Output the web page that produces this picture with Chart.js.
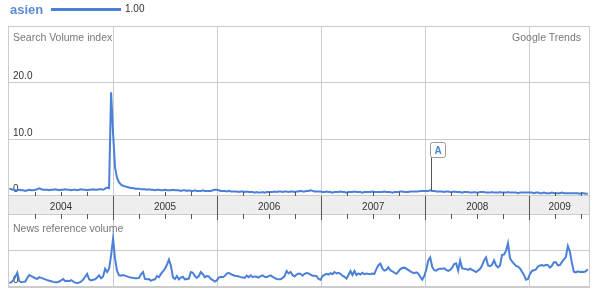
<!DOCTYPE html>
<html>
<head>
<meta charset="utf-8">
<title>asien - Google Trends</title>
<script src="https://cdn.jsdelivr.net/npm/chart.js@4.4.1/dist/chart.umd.min.js"></script>
<style>
  html, body { margin: 0; padding: 0; background: #fff; }
  body { position: relative; width: 595px; height: 292px; overflow: hidden;
         font-family: "Liberation Sans", Arial, sans-serif; }
  canvas { position: absolute; left: 0; top: 0; }
  .txt { position: absolute; white-space: nowrap; z-index: 2; }
  .term { left: 10px; top: 1.5px; font-size: 13px; line-height: 16px; font-weight: bold; color: #5b8bd6; }
  .swatch { position: absolute; left: 51px; top: 8px; width: 70px; height: 3px; background: #4a80d8; }
  .avg { left: 125px; top: 3px; font-size: 10px; line-height: 12px; color: #333; }
  .note { font-size: 10.5px; line-height: 12px; color: #777; }
</style>
</head>
<body>
<canvas id="searchChart" width="595" height="292"></canvas>
<canvas id="newsChart" width="595" height="292"></canvas>

<span class="txt term">asien</span>
<span class="swatch"></span>
<span class="txt avg">1.00</span>
<span class="txt note" style="left:13px;top:31px">Search Volume index</span>
<span class="txt note" style="right:14px;top:31px">Google Trends</span>
<span class="txt note" style="left:13px;top:222px">News reference volume</span>

<script>
// ----- Data: weekly samples, first week of 2004 to late July 2009 -----
const FIRST_WEEK = 2004.004;          // decimal year of sample 0
const WEEK = 7 / 365.25;
const years = [2004, 2005, 2006, 2007, 2008, 2009];

// Search volume index (top panel)
const searchVolume = [
  1.3, 1.2, 1.1, 1.0, 1.0, 1.1, 1.0, 1.0, 0.9, 1.0,
  1.1, 1.0, 1.0, 1.1, 1.2, 1.35, 1.2, 1.1, 1.1, 1.1,
  1.0, 1.1, 1.1, 1.2, 1.1, 1.0, 1.1, 1.1, 1.2, 1.1,
  1.1, 1.0, 1.1, 1.1, 1.0, 1.1, 1.2, 1.1, 1.1, 1.0,
  1.1, 1.1, 1.2, 1.1, 1.1, 1.2, 1.2, 1.1, 1.3, 1.5,
  1.4, 18.3, 11.0, 5.0, 3.2, 2.4, 2.0, 1.8, 1.7, 1.6,
  1.5, 1.4, 1.4, 1.3, 1.3, 1.3, 1.2, 1.2, 1.2, 1.1,
  1.2, 1.1, 1.1, 1.0, 1.1, 1.1, 1.0, 1.0, 1.1, 1.0,
  1.0, 1.0, 1.1, 1.0, 1.0, 1.0, 0.9, 1.0, 1.0, 0.9,
  1.0, 0.9, 0.9, 1.0, 0.9, 0.9, 0.9, 1.0, 0.9, 0.9,
  0.9, 0.9, 1.0, 1.1, 1.1, 1.0, 0.9, 0.9, 0.9, 0.8,
  0.9, 0.8, 0.8, 0.8, 0.8, 0.7, 0.8, 0.8, 0.7, 0.8,
  0.7, 0.7, 0.7, 0.6, 0.7, 0.6, 0.6, 0.7, 0.6, 0.7,
  0.7, 0.7, 0.7, 0.8, 0.7, 0.8, 0.8, 0.7, 0.8, 0.8,
  0.7, 0.8, 0.8, 0.7, 0.8, 0.8, 0.9, 0.8, 0.8, 0.9,
  0.9, 1.0, 0.9, 0.8, 0.8, 0.8, 0.8, 0.7, 0.7, 0.8,
  0.7, 0.7, 0.6, 0.7, 0.7, 0.7, 0.8, 0.7, 0.7, 0.6,
  0.7, 0.7, 0.7, 0.8, 0.7, 0.7, 0.7, 0.6, 0.7, 0.7,
  0.7, 0.7, 0.8, 0.7, 0.7, 0.7, 0.7, 0.7, 0.8, 0.7,
  0.7, 0.7, 0.6, 0.7, 0.7, 0.7, 0.8, 0.8, 0.7, 0.7,
  0.7, 0.8, 0.8, 0.8, 0.8, 0.8, 0.9, 0.9, 0.9, 0.9,
  0.9, 1.0, 0.9, 0.9, 0.8, 0.8, 0.8, 0.8, 0.7, 0.8,
  0.8, 0.7, 0.7, 0.8, 0.7, 0.7, 0.7, 0.6, 0.7, 0.7,
  0.7, 0.6, 0.6, 0.7, 0.6, 0.6, 0.7, 0.7, 0.7, 0.6,
  0.6, 0.6, 0.7, 0.6, 0.6, 0.6, 0.7, 0.6, 0.6, 0.6,
  0.7, 0.6, 0.6, 0.6, 0.6, 0.5, 0.6, 0.6, 0.6, 0.6,
  0.6, 0.6, 0.6, 0.5, 0.6, 0.6, 0.5, 0.5, 0.6, 0.5,
  0.5, 0.5, 0.6, 0.5, 0.5, 0.5, 0.5, 0.6, 0.5, 0.5,
  0.5, 0.5, 0.5, 0.5, 0.5, 0.5, 0.4, 0.5, 0.5, 0.4,
  0.4
];

// News reference volume (bottom panel, 1 = middle gridline)
const newsVolume = [
  0.11, 0.13, 0.19, 0.28, 0.39, 0.16, 0.13, 0.14, 0.15, 0.25,
  0.33, 0.30, 0.27, 0.24, 0.22, 0.27, 0.25, 0.23, 0.21, 0.19,
  0.17, 0.16, 0.14, 0.13, 0.13, 0.15, 0.18, 0.22, 0.16, 0.17,
  0.16, 0.19, 0.15, 0.12, 0.11, 0.12, 0.15, 0.20, 0.28, 0.36,
  0.21, 0.18, 0.20, 0.21, 0.26, 0.32, 0.24, 0.29, 0.50, 0.41,
  0.50, 0.86, 1.33, 0.77, 0.44, 0.32, 0.31, 0.33, 0.31, 0.29,
  0.27, 0.26, 0.25, 0.24, 0.24, 0.25, 0.35, 0.41, 0.22, 0.21,
  0.22, 0.17, 0.20, 0.21, 0.30, 0.27, 0.36, 0.43, 0.50, 0.61,
  0.75, 0.58, 0.27, 0.22, 0.30, 0.21, 0.26, 0.28, 0.21, 0.22,
  0.23, 0.41, 0.39, 0.30, 0.25, 0.30, 0.41, 0.35, 0.27, 0.30,
  0.29, 0.22, 0.19, 0.15, 0.18, 0.26, 0.28, 0.27, 0.30, 0.37,
  0.39, 0.35, 0.33, 0.31, 0.30, 0.29, 0.27, 0.26, 0.25, 0.31,
  0.27, 0.32, 0.27, 0.29, 0.28, 0.26, 0.30, 0.32, 0.28, 0.27,
  0.30, 0.32, 0.28, 0.25, 0.22, 0.21, 0.21, 0.25, 0.30, 0.44,
  0.37, 0.41, 0.33, 0.29, 0.34, 0.37, 0.36, 0.31, 0.36, 0.38,
  0.37, 0.34, 0.31, 0.31, 0.30, 0.22, 0.20, 0.30, 0.33, 0.36,
  0.34, 0.38, 0.35, 0.41, 0.37, 0.39, 0.36, 0.31, 0.28, 0.23,
  0.33, 0.44, 0.33, 0.44, 0.33, 0.37, 0.34, 0.39, 0.35, 0.37,
  0.36, 0.35, 0.37, 0.36, 0.49, 0.60, 0.64, 0.51, 0.45, 0.47,
  0.54, 0.46, 0.43, 0.39, 0.36, 0.42, 0.49, 0.52, 0.53, 0.50,
  0.47, 0.43, 0.40, 0.38, 0.40, 0.37, 0.28, 0.20, 0.30, 0.47,
  0.72, 0.81, 0.55, 0.46, 0.45, 0.49, 0.50, 0.50, 0.51, 0.47,
  0.44, 0.47, 0.53, 0.63, 0.65, 0.45, 0.73, 0.51, 0.50, 0.49,
  0.47, 0.50, 0.47, 0.44, 0.41, 0.45, 0.50, 0.59, 0.73, 0.81,
  0.59, 0.57, 0.61, 0.73, 0.59, 0.54, 0.59, 0.88, 0.89, 0.99,
  1.20, 0.79, 0.70, 0.64, 0.58, 0.56, 0.51, 0.42, 0.33, 0.20,
  0.22, 0.35, 0.44, 0.46, 0.48, 0.56, 0.59, 0.60, 0.58, 0.61,
  0.60, 0.53, 0.58, 0.68, 0.68, 0.59, 0.60, 0.68, 0.76, 0.82,
  1.12, 0.97, 0.67, 0.42, 0.40, 0.43, 0.41, 0.42, 0.41, 0.43,
  0.49
];

// News story flags on the search line
const markers = [{ week: 212, label: 'A' }];

const weeks = searchVolume.map((_, i) => FIRST_WEEK + i * WEEK);
const toPoints = arr => arr.map((v, i) => ({ x: weeks[i], y: v }));

// ----- Shared look -----
const BLUE = '#4a80d8';
const GRID = '#cccccc';
const FONT = '"Liberation Sans", Arial, sans-serif';
const X_MIN = 2003.991, X_MAX = 2009.583;
const BAND_H = 18;

Chart.defaults.font.family = FONT;
Chart.defaults.animation = false;

const isYear = v => Math.abs(v - Math.round(v)) < 1e-6;

function timeAxis() {
  return {
    type: 'linear', min: X_MIN, max: X_MAX,
    ticks: { display: false, stepSize: 0.25, includeBounds: false },
    grid: { drawTicks: false, color: c => isYear(c.tick.value) ? GRID : 'rgba(0,0,0,0)' },
    border: { display: false },
    afterFit: s => { s.height = 0; s.paddingLeft = 0; s.paddingRight = 0; }
  };
}

function valueAxis(max, step, label) {
  return {
    min: 0, max: max,
    ticks: { stepSize: step, mirror: true, padding: 5, labelOffset: -6.5,
             color: '#333', font: { size: 10 }, callback: label },
    grid: { drawTicks: false, color: GRID },
    border: { display: false },
    afterFit: s => { s.width = 0; s.paddingTop = 0; s.paddingBottom = 0; }
  };
}

function lineDataset(arr) {
  return { data: toPoints(arr), borderColor: BLUE, borderWidth: 2,
           pointRadius: 0, tension: 0, fill: false };
}

// ----- Plugins -----
const framePlugin = {
  id: 'frame',
  beforeDatasetsDraw(chart) {
    const { ctx, chartArea: a } = chart;
    ctx.save();
    ctx.strokeStyle = GRID;
    ctx.lineWidth = 1;
    ctx.strokeRect(a.left + 0.5, a.top + 0.5, a.right - a.left - 1, a.bottom - a.top - 1);
    ctx.restore();
  }
};

const markerPlugin = {
  id: 'markers',
  afterDatasetsDraw(chart) {
    const { ctx } = chart;
    const pts = chart.getDatasetMeta(0).data;
    const boxTop = 142, boxSize = 15;
    markers.forEach(m => {
      const p = pts[m.week];
      const sx = Math.round(p.x) - 0.5;
      ctx.save();
      ctx.strokeStyle = '#555';
      ctx.lineWidth = 1;
      ctx.beginPath();
      ctx.moveTo(sx, boxTop + boxSize);
      ctx.lineTo(sx, p.y);
      ctx.stroke();
      ctx.fillStyle = '#fff';
      ctx.strokeStyle = '#999';
      ctx.beginPath();
      ctx.roundRect(sx - 1, boxTop + 0.5, boxSize, boxSize, 2);
      ctx.fill();
      ctx.stroke();
      ctx.fillStyle = BLUE;
      ctx.font = 'bold 10px ' + FONT;
      ctx.textAlign = 'center';
      ctx.textBaseline = 'alphabetic';
      ctx.fillText(m.label, sx - 1 + boxSize / 2, boxTop + 12);
      ctx.restore();
    });
  }
};

// Grey year band between the two panels, drawn from the news chart's x scale
const bandPlugin = {
  id: 'yearBand',
  afterDraw(chart) {
    const { ctx, chartArea: a, scales: { x } } = chart;
    const top = a.top - BAND_H, bottom = a.top;
    ctx.save();
    ctx.fillStyle = '#eeeeee';
    ctx.fillRect(a.left, top, a.right - a.left, BAND_H);
    ctx.strokeStyle = GRID;
    ctx.lineWidth = 1;
    ctx.beginPath();
    ctx.moveTo(a.left + 0.5, top); ctx.lineTo(a.left + 0.5, bottom);
    ctx.moveTo(a.right - 0.5, top); ctx.lineTo(a.right - 0.5, bottom);
    ctx.stroke();

    ctx.strokeStyle = '#555';
    x.ticks.forEach(t => {
      const px = Math.round(x.getPixelForValue(t.value)) + 0.5;
      if (px < a.left + 2 || px > a.right - 1) return;
      ctx.beginPath();
      if (isYear(t.value)) {
        ctx.moveTo(px, top);
        ctx.lineTo(px, bottom + 6);
      } else {
        ctx.moveTo(px, top - 4); ctx.lineTo(px, top);
        ctx.moveTo(px, bottom); ctx.lineTo(px, bottom + 5);
      }
      ctx.stroke();
    });

    ctx.fillStyle = '#333';
    ctx.font = '10px ' + FONT;
    ctx.textAlign = 'center';
    ctx.textBaseline = 'alphabetic';
    years.forEach(yr => {
      const l = Math.max(x.getPixelForValue(yr), a.left);
      const r = Math.min(x.getPixelForValue(yr + 1), a.right);
      ctx.fillText(String(yr), (l + r) / 2, bottom - 4);
    });
    ctx.restore();
  }
};

// ----- Top panel: search volume -----
new Chart(document.getElementById('searchChart'), {
  type: 'line',
  data: { datasets: [lineDataset(searchVolume)] },
  options: {
    responsive: false,
    layout: { padding: { left: 8, top: 26, right: 5, bottom: 96 } },
    plugins: { legend: { display: false }, tooltip: { enabled: false } },
    scales: {
      x: timeAxis(),
      y: valueAxis(30, 10, v => v === 0 ? '0' : v === 30 ? '' : v.toFixed(1))
    }
  },
  plugins: [framePlugin, markerPlugin]
});

// ----- Bottom panel: news reference volume -----
new Chart(document.getElementById('newsChart'), {
  type: 'line',
  data: { datasets: [lineDataset(newsVolume)] },
  options: {
    responsive: false,
    layout: { padding: { left: 8, top: 214, right: 5, bottom: 5 } },
    plugins: { legend: { display: false }, tooltip: { enabled: false } },
    scales: {
      x: timeAxis(),
      y: valueAxis(2, 1, v => v === 0 ? '0' : '')
    }
  },
  plugins: [framePlugin, bandPlugin]
});
</script>
</body>
</html>
